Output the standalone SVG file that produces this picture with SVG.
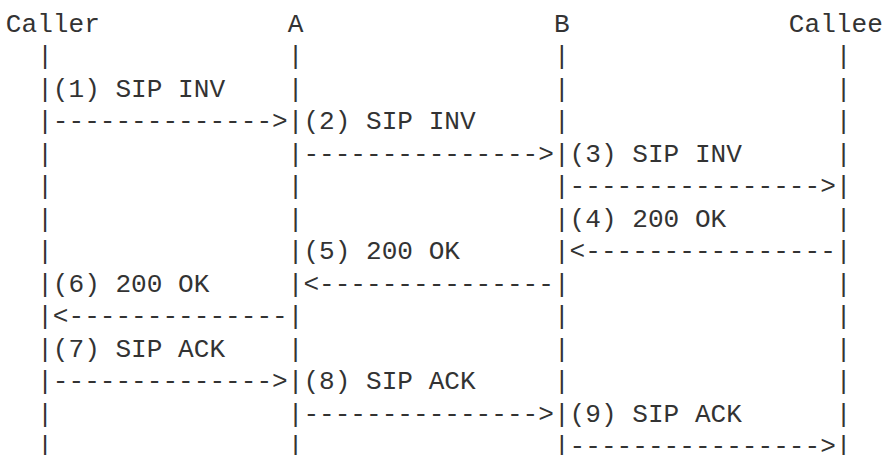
<svg xmlns="http://www.w3.org/2000/svg" width="884" height="455" viewBox="0 0 884 455">
<style>
text{font-family:"Liberation Mono","DejaVu Sans Mono",monospace;font-size:26.1px;fill:#333333;white-space:pre}
</style>
<rect width="884" height="455" fill="#ffffff"/>
<g id="node-caller">
<text x="5.85" y="31.7">Caller</text>
<text><tspan x="37.17" y="64.2">|</tspan><tspan x="37.17" y="96.7">|</tspan><tspan x="37.17" y="129.2">|</tspan><tspan x="37.17" y="161.7">|</tspan><tspan x="37.17" y="194.2">|</tspan><tspan x="37.17" y="226.7">|</tspan><tspan x="37.17" y="259.2">|</tspan><tspan x="37.17" y="291.7">|</tspan><tspan x="37.17" y="324.2">|</tspan><tspan x="37.17" y="356.7">|</tspan><tspan x="37.17" y="389.2">|</tspan><tspan x="37.17" y="421.7">|</tspan><tspan x="37.17" y="454.2">|</tspan></text>
</g>
<g id="node-a">
<text x="287.73" y="31.7">A</text>
<text><tspan x="287.73" y="64.2">|</tspan><tspan x="287.73" y="96.7">|</tspan><tspan x="287.73" y="129.2">|</tspan><tspan x="287.73" y="161.7">|</tspan><tspan x="287.73" y="194.2">|</tspan><tspan x="287.73" y="226.7">|</tspan><tspan x="287.73" y="259.2">|</tspan><tspan x="287.73" y="291.7">|</tspan><tspan x="287.73" y="324.2">|</tspan><tspan x="287.73" y="356.7">|</tspan><tspan x="287.73" y="389.2">|</tspan><tspan x="287.73" y="421.7">|</tspan><tspan x="287.73" y="454.2">|</tspan></text>
</g>
<g id="node-b">
<text x="553.95" y="31.7">B</text>
<text><tspan x="553.95" y="64.2">|</tspan><tspan x="553.95" y="96.7">|</tspan><tspan x="553.95" y="129.2">|</tspan><tspan x="553.95" y="161.7">|</tspan><tspan x="553.95" y="194.2">|</tspan><tspan x="553.95" y="226.7">|</tspan><tspan x="553.95" y="259.2">|</tspan><tspan x="553.95" y="291.7">|</tspan><tspan x="553.95" y="324.2">|</tspan><tspan x="553.95" y="356.7">|</tspan><tspan x="553.95" y="389.2">|</tspan><tspan x="553.95" y="421.7">|</tspan><tspan x="553.95" y="454.2">|</tspan></text>
</g>
<g id="node-callee">
<text x="788.85" y="31.7">Callee</text>
<text><tspan x="835.83" y="64.2">|</tspan><tspan x="835.83" y="96.7">|</tspan><tspan x="835.83" y="129.2">|</tspan><tspan x="835.83" y="161.7">|</tspan><tspan x="835.83" y="194.2">|</tspan><tspan x="835.83" y="226.7">|</tspan><tspan x="835.83" y="259.2">|</tspan><tspan x="835.83" y="291.7">|</tspan><tspan x="835.83" y="324.2">|</tspan><tspan x="835.83" y="356.7">|</tspan><tspan x="835.83" y="389.2">|</tspan><tspan x="835.83" y="421.7">|</tspan><tspan x="835.83" y="454.2">|</tspan></text>
</g>
<g id="connectors">
<text x="52.83" y="96.7">(1) SIP INV</text>
<text x="52.83" y="129.2">--------------&gt;</text>
<text x="303.39" y="129.2">(2) SIP INV</text>
<text x="303.39" y="161.7">---------------&gt;</text>
<text x="569.61" y="161.7">(3) SIP INV</text>
<text x="569.61" y="194.2">----------------&gt;</text>
<text x="569.61" y="226.7">(4) 200 OK</text>
<text x="569.61" y="259.2">&lt;----------------</text>
<text x="303.39" y="259.2">(5) 200 OK</text>
<text x="303.39" y="291.7">&lt;---------------</text>
<text x="52.83" y="291.7">(6) 200 OK</text>
<text x="52.83" y="324.2">&lt;--------------</text>
<text x="52.83" y="356.7">(7) SIP ACK</text>
<text x="52.83" y="389.2">--------------&gt;</text>
<text x="303.39" y="389.2">(8) SIP ACK</text>
<text x="303.39" y="421.7">---------------&gt;</text>
<text x="569.61" y="421.7">(9) SIP ACK</text>
<text x="569.61" y="454.2">----------------&gt;</text>
</g>
</svg>
